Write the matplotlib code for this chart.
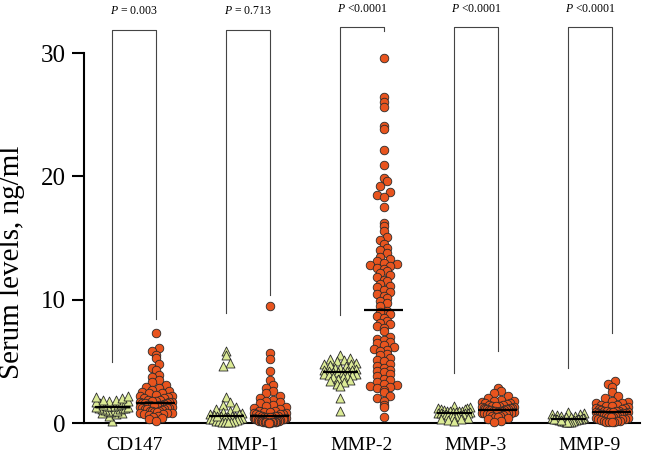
import numpy as np
import matplotlib
matplotlib.use("Agg")
import matplotlib.pyplot as plt

plt.rcParams['font.family'] = ['Liberation Serif', 'DejaVu Serif']
plt.rcParams['mathtext.fontset'] = 'custom'
plt.rcParams['mathtext.rm'] = 'Liberation Serif'
plt.rcParams['mathtext.it'] = 'Liberation Serif:italic'

# ---------------- data ----------------
categories = ["CD147", "MMP-1", "MMP-2", "MMP-3", "MMP-9"]
p_labels = ["= 0.003", "= 0.713", "<0.0001", "<0.0001", "<0.0001"]

cd147_ctrl = [0.15, 0.6, 0.7, 0.8, 0.85, 0.9, 0.95, 1.0, 1.0, 1.05, 1.1, 1.15, 1.2, 1.2,
              1.25, 1.3, 1.3, 1.35, 1.4, 1.4, 1.45, 1.5, 1.55, 1.6, 1.65, 1.7, 1.75, 1.8,
              1.85, 1.9, 2.0, 2.1, 2.2]
cd147_pat = [7.3, 6.1, 5.8, 5.5, 5.3, 4.8, 4.5, 4.3, 3.9, 3.7, 3.5, 3.3, 3.1, 2.9, 2.8,
             2.7, 2.6, 2.5, 2.4, 2.4, 2.3, 2.2, 2.2, 2.1, 2.0, 2.0, 1.9, 1.9, 1.8, 1.8,
             1.7, 1.7, 1.7, 1.6, 1.6, 1.6, 1.55, 1.5, 1.5, 1.5, 1.45, 1.4, 1.4, 1.35, 1.3,
             1.3, 1.25, 1.2, 1.2, 1.15, 1.1, 1.1, 1.05, 1.0, 1.0, 0.95, 0.9, 0.9, 0.85,
             0.8, 0.8, 0.75, 0.7, 0.65, 0.6, 0.5, 0.4, 0.3, 0.2]
mmp1_ctrl = [5.8, 5.5, 4.9, 4.6, 2.1, 1.7, 1.5, 1.3, 1.1, 1.0, 0.9, 0.8, 0.75, 0.7, 0.65,
             0.6, 0.57, 0.55, 0.5, 0.45, 0.4, 0.35, 0.3, 0.3, 0.25, 0.2, 0.2, 0.15, 0.1,
             0.1, 0.05, 0.05, 0.6]
mmp1_pat = [9.5, 5.7, 5.2, 4.2, 3.5, 3.1, 2.8, 2.6, 2.4, 2.2, 2.0, 1.9, 1.8, 1.7, 1.6,
            1.5, 1.4, 1.3, 1.2, 1.1, 1.0, 1.0, 0.9, 0.9, 0.8, 0.8, 0.75, 0.7, 0.7, 0.65,
            0.6, 0.6, 0.55, 0.5, 0.5, 0.45, 0.45, 0.4, 0.4, 0.35, 0.35, 0.3, 0.3, 0.3,
            0.25, 0.25, 0.2, 0.2, 0.2, 0.15, 0.15, 0.1, 0.1, 0.1, 0.08, 0.05, 0.05, 0.05,
            0.03, 0.02, 0.02]
mmp2_ctrl = [5.5, 5.3, 5.2, 5.1, 5.0, 4.9, 4.8, 4.8, 4.7, 4.6, 4.5, 4.5, 4.4, 4.3, 4.3,
             4.2, 4.2, 4.15, 4.1, 4.1, 4.0, 4.0, 3.9, 3.9, 3.8, 3.7, 3.7, 3.6, 3.5, 3.4,
             3.3, 3.2, 3.0, 2.0, 1.0]
mmp2_pat = [29.6, 26.4, 26.0, 25.6, 24.1, 23.8, 22.1, 20.9, 19.9, 19.6, 19.2, 18.7, 18.5,
            18.3, 17.5, 16.2, 16.0, 15.6, 15.1, 14.8,
            14.5, 14.2, 14.0, 13.8, 13.5, 13.3, 13.1, 13.0, 12.9, 12.8, 12.7, 12.6, 12.5,
            12.3, 12.2, 12.0, 11.8, 11.6, 11.5, 11.3, 11.1, 11.0, 10.8, 10.6, 10.5, 10.3,
            10.1, 9.9, 9.7, 9.5,
            9.1, 9.0, 8.8, 8.7, 8.5, 8.3, 8.1, 8.0, 7.9, 7.7, 7.5, 7.0, 6.8, 6.7, 6.6, 6.5,
            6.3, 6.2, 6.0, 5.9, 5.8, 5.6, 5.5, 5.3, 5.1, 5.0, 4.8, 4.6, 4.5, 4.3, 4.2, 4.1,
            4.0, 3.8, 3.6, 3.5, 3.3, 3.2, 3.1, 3.0, 2.9, 2.8, 2.7, 2.5, 2.2, 2.0, 1.8, 1.5,
            1.3, 0.5]
mmp3_ctrl = [1.4, 1.3, 1.25, 1.2, 1.15, 1.1, 1.05, 1.0, 1.0, 0.95, 0.95, 0.9, 0.9, 0.88,
             0.85, 0.84, 0.8, 0.78, 0.75, 0.72, 0.7, 0.68, 0.65, 0.6, 0.55, 0.5, 0.45, 0.4,
             0.35, 0.3, 0.25, 0.2]
mmp3_pat = [2.8, 2.6, 2.4, 2.2, 2.0, 1.9, 1.8, 1.75, 1.7, 1.65, 1.6, 1.55, 1.5, 1.45, 1.4,
            1.4, 1.35, 1.3, 1.3, 1.25, 1.2, 1.2, 1.15, 1.15, 1.1, 1.1, 1.08, 1.05, 1.05,
            1.0, 1.0, 0.98, 0.95, 0.92, 0.9, 0.88, 0.85, 0.82, 0.8, 0.78, 0.75, 0.72, 0.7,
            0.65, 0.6, 0.55, 0.5, 0.45, 0.4, 0.3, 0.2, 0.1]
mmp9_ctrl = [0.9, 0.8, 0.75, 0.7, 0.65, 0.6, 0.55, 0.5, 0.45, 0.42, 0.4, 0.38, 0.35, 0.33,
             0.32, 0.3, 0.28, 0.25, 0.22, 0.2, 0.18, 0.15, 0.12, 0.1, 0.08, 0.05, 0.3,
             0.35, 0.25]
mmp9_pat = [3.4, 3.2, 2.9, 2.5, 2.2, 2.0, 1.8, 1.7, 1.65, 1.6, 1.5, 1.45, 1.4, 1.35, 1.3,
            1.25, 1.2, 1.15, 1.1, 1.05, 1.0, 1.0, 0.95, 0.95, 0.9, 0.9, 0.88, 0.87, 0.85,
            0.8, 0.8, 0.75, 0.75, 0.7, 0.7, 0.65, 0.6, 0.6, 0.55, 0.5, 0.5, 0.45, 0.4, 0.4,
            0.35, 0.3, 0.3, 0.25, 0.2, 0.2, 0.15, 0.1, 0.1, 0.05, 0.05]

# medians as drawn in the figure
ctrl_medians = [1.3, 0.57, 4.16, 0.84, 0.32]
pat_medians = [1.6, 0.6, 9.16, 1.05, 0.87]

control_groups = [cd147_ctrl, mmp1_ctrl, mmp2_ctrl, mmp3_ctrl, mmp9_ctrl]
patient_groups = [cd147_pat, mmp1_pat, mmp2_pat, mmp3_pat, mmp9_pat]

# bracket geometry (data units)
bracket_top = [31.9, 31.9, 32.1, 32.1, 32.1]
left_leg_bottom = [4.95, 8.9, 8.76, 4.08, 4.43]
right_leg_bottom = [8.4, 10.4, 31.8, 5.86, 7.3]

# ---------------- figure ----------------
fig = plt.figure(figsize=(6.45, 4.57), dpi=100)
ax = fig.add_axes([84 / 645, 34 / 457, 556 / 645, 370 / 457])
xmin, xmax = -0.4386, 4.4386
ax.set_xlim(xmin, xmax)
ax.set_ylim(0, 30)

px_x = 556.0 / (xmax - xmin)
px_y = 370.0 / 30.0

ctrl_color = '#DCEB96'
pat_color = '#E8541E'
edge = '#2a2a2a'
offset = 0.19


def swarm(values, step=6.6, row_h=5.5, max_w=32.0):
    """Prism-like scatter: values binned in rows, each row spread horizontally."""
    vals = np.asarray(values, float)
    ys = vals * px_y
    bins = np.floor(ys / row_h).astype(int)
    xs = np.zeros(len(vals))
    for b in np.unique(bins):
        idx = np.where(bins == b)[0]
        idx = idx[np.argsort(vals[idx])]
        n = len(idx)
        if n == 1:
            continue
        sp = min(step, max_w / (n - 1))
        slots = (np.arange(n) - (n - 1) / 2.0) * sp
        order = np.argsort(np.abs(slots) + 1e-3 * np.arange(n))
        for k, j in enumerate(idx):
            xs[j] = slots[order[k]]
    return xs / px_x


for i, (cv, pv) in enumerate(zip(control_groups, patient_groups)):
    xc = i - offset
    xp = i + offset
    dxc = swarm(cv)
    dxp = swarm(pv)
    ax.scatter(xc + dxc, cv, marker='^', s=42, facecolor=ctrl_color, edgecolor=edge,
               linewidth=0.6, zorder=3, clip_on=False)
    ax.scatter(xp + dxp, pv, marker='o', s=38, facecolor=pat_color, edgecolor=edge,
               linewidth=0.6, zorder=3, clip_on=False)
    ax.plot([xc - 0.155, xc + 0.155], [ctrl_medians[i]] * 2, color='black', lw=1.6,
            zorder=5, solid_capstyle='butt', clip_on=False)
    ax.plot([xp - 0.17, xp + 0.17], [pat_medians[i]] * 2, color='black', lw=1.6,
            zorder=5, solid_capstyle='butt', clip_on=False)
    # bracket
    ax.plot([xc, xc, xp, xp],
            [left_leg_bottom[i], bracket_top[i], bracket_top[i], right_leg_bottom[i]],
            color='#444444', lw=0.8, clip_on=False, zorder=2)
    ax.text(i, bracket_top[i] + 1.5, r'$P$' + ' ' + p_labels[i], ha='center',
            va='center', fontsize=8.5, clip_on=False)

ax.spines['top'].set_visible(False)
ax.spines['right'].set_visible(False)
ax.spines['left'].set_linewidth(1.5)
ax.spines['bottom'].set_linewidth(1.5)
ax.spines['left'].set_zorder(1)
ax.spines['bottom'].set_zorder(1)

ax.set_yticks([0, 10, 20, 30])
ax.tick_params(axis='y', length=9, width=1.5, pad=4, labelsize=18)
ax.set_xticks(range(len(categories)))
ax.set_xticklabels(categories, fontsize=14)
ax.tick_params(axis='x', length=0, pad=10)

ax.set_ylabel('Serum levels, ng/ml', fontsize=21)
ax.yaxis.set_label_coords(-0.106, 0.435)

fig.savefig('out.png', dpi=100)
